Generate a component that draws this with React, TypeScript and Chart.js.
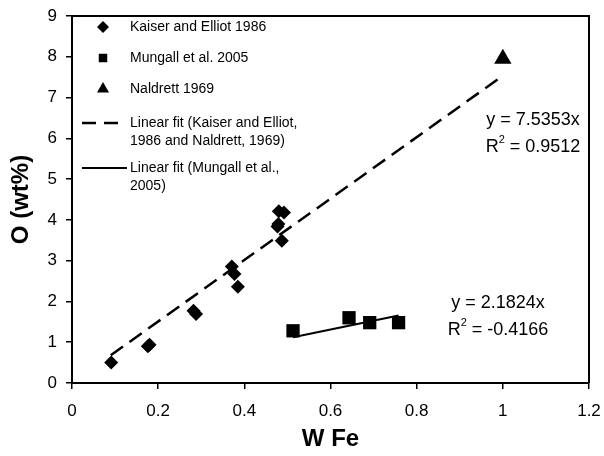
import React, { useEffect, useRef } from 'react';
import { Chart, registerables } from 'chart.js';

Chart.register(...registerables);

// Kaiser and Elliot 1986
const kaiserX = [0.091, 0.176, 0.18, 0.282, 0.288, 0.371, 0.377, 0.385, 0.477, 0.479, 0.48, 0.492, 0.487];
const kaiserY = [0.5, 0.9, 0.94, 1.77, 1.69, 2.86, 2.67, 2.36, 3.84, 3.9, 4.21, 4.18, 3.49];
// Mungall et al. 2005
const mungallX = [0.513, 0.643, 0.691, 0.758];
const mungallY = [1.28, 1.6, 1.48, 1.48];
// Naldrett 1969
const naldrettX = [1.0];
const naldrettY = [7.95];
// Linear fit (Kaiser and Elliot 1986 and Naldrett 1969): y = 7.5353x
const fitKX = [0.09, 1.0];
const fitKY = [0.68, 7.535];
// Linear fit (Mungall et al. 2005): y = 2.1824x
const fitMX = [0.513, 0.758];
const fitMY = [1.12, 1.654];

const legendLabels = [
  ['Kaiser and Elliot 1986'],
  ['Mungall et al. 2005'],
  ['Naldrett 1969'],
  ['Linear fit (Kaiser and Elliot,', '1986 and Naldrett, 1969)'],
  ['Linear fit (Mungall et al.,', '2005)'],
];
const eq1 = ['y = 7.5353x', '0.9512'];
const eq2 = ['y = 2.1824x', '-0.4166'];

const xTitle = 'W Fe';
const yTitle = 'O (wt%)';

const FONT = '"Liberation Sans", Arial, Helvetica, sans-serif';

function pts(xs: number[], ys: number[]) {
  return xs.map((x, i) => ({ x, y: ys[i] }));
}

export default function App() {
  const ref = useRef<HTMLCanvasElement>(null);
  useEffect(() => {
    document.body.style.margin = '0';
    const canvas = ref.current!;

    const drawDiamond = (c: CanvasRenderingContext2D, x: number, y: number, r: number) => {
      c.beginPath();
      c.moveTo(x - r, y); c.lineTo(x, y - r); c.lineTo(x + r, y); c.lineTo(x, y + r);
      c.closePath(); c.fill();
    };
    const drawSquare = (c: CanvasRenderingContext2D, x: number, y: number, s: number) => {
      c.fillRect(x - s / 2, y - s / 2, s, s);
    };
    const drawTri = (c: CanvasRenderingContext2D, x: number, y: number, r: number) => {
      c.beginPath();
      c.moveTo(x, y - r);
      c.lineTo(x + r * Math.sin(Math.PI * 2 / 3), y - r * Math.cos(Math.PI * 2 / 3));
      c.lineTo(x + r * Math.sin(Math.PI * 4 / 3), y - r * Math.cos(Math.PI * 4 / 3));
      c.closePath(); c.fill();
    };

    const drawEq = (c: CanvasRenderingContext2D, cx: number, y1: number, y2: number, eq: string[]) => {
      const big = `18px ${FONT}`;
      const small = `11px ${FONT}`;
      c.font = big;
      c.textBaseline = 'middle';
      c.textAlign = 'center';
      c.fillText(eq[0], cx, y1);
      const rest = ' = ' + eq[1];
      const wR = c.measureText('R').width;
      const wRest = c.measureText(rest).width;
      c.font = small;
      const w2 = c.measureText('2').width;
      const total = wR + w2 + wRest;
      let x = cx - total / 2;
      c.textAlign = 'left';
      c.font = big;
      c.fillText('R', x, y2);
      x += wR;
      c.font = small;
      c.fillText('2', x, y2 - 7);
      x += w2;
      c.font = big;
      c.fillText(rest, x, y2);
    };

    const overlay = {
      id: 'overlay',
      afterDraw(chart: any) {
        const c: CanvasRenderingContext2D = chart.ctx;
        const a = chart.chartArea;
        c.save();
        c.strokeStyle = '#000';
        c.lineWidth = 2;
        c.beginPath();
        c.moveTo(a.left, a.top);
        c.lineTo(a.right, a.top);
        c.lineTo(a.right, a.bottom);
        c.stroke();

        // legend
        c.fillStyle = '#000';
        const mx = 103;
        const tx = 130;
        const rows = [27, 58, 89, 123, 168];
        drawDiamond(c, mx, rows[0], 6);
        drawSquare(c, mx, rows[1], 8.5);
        drawTri(c, mx, rows[2], 7);
        c.lineWidth = 2.5;
        c.setLineDash([14, 8]);
        c.beginPath(); c.moveTo(82, rows[3]); c.lineTo(125, rows[3]); c.stroke();
        c.setLineDash([]);
        c.lineWidth = 2;
        c.beginPath(); c.moveTo(82, rows[4]); c.lineTo(127, rows[4]); c.stroke();
        c.font = `14px ${FONT}`;
        c.textBaseline = 'middle';
        c.textAlign = 'left';
        legendLabels.forEach((lines, i) => {
          lines.forEach((t, j) => c.fillText(t, tx, rows[i] + j * 18));
        });

        drawEq(c, 533, 120, 147, eq1);
        drawEq(c, 498, 303, 330, eq2);
        c.restore();
      },
    };

    const fmt = (v: any) => String(Math.round(Number(v) * 10) / 10);

    const chart = new Chart(canvas, {
      type: 'scatter',
      data: {
        datasets: [
          {
            label: 'fitK',
            type: 'line',
            data: pts(fitKX, fitKY),
            borderColor: '#000',
            borderWidth: 2.5,
            borderDash: [15, 8],
            pointRadius: 0,
            fill: false,
          } as any,
          {
            label: 'fitM',
            type: 'line',
            data: pts(fitMX, fitMY),
            borderColor: '#000',
            borderWidth: 2,
            pointRadius: 0,
            fill: false,
          } as any,
          {
            label: 'Kaiser and Elliot 1986',
            data: pts(kaiserX, kaiserY),
            pointStyle: 'rectRot',
            pointRadius: 7,
            backgroundColor: '#000',
            borderColor: '#000',
            borderWidth: 0,
          },
          {
            label: 'Mungall et al. 2005',
            data: pts(mungallX, mungallY),
            pointStyle: 'rect',
            pointRadius: 9.4,
            backgroundColor: '#000',
            borderColor: '#000',
            borderWidth: 0,
          },
          {
            label: 'Naldrett 1969',
            data: pts(naldrettX, naldrettY),
            pointStyle: 'triangle',
            pointRadius: 10,
            backgroundColor: '#000',
            borderColor: '#000',
            borderWidth: 0,
          },
        ],
      },
      options: {
        responsive: false,
        animation: false,
        devicePixelRatio: 1,
        layout: { padding: { top: 16, right: 15, left: 0, bottom: 0 } },
        plugins: { legend: { display: false }, tooltip: { enabled: false } },
        scales: {
          x: {
            type: 'linear',
            min: 0,
            max: 1.2,
            ticks: { stepSize: 0.2, color: '#000', font: { family: FONT, size: 17 }, padding: 12, callback: fmt },
            grid: { drawOnChartArea: false, drawTicks: true, tickLength: 6, color: '#000', lineWidth: 1.5 },
            border: { color: '#000', width: 2 },
            title: {
              display: true,
              text: xTitle,
              color: '#000',
              font: { family: FONT, size: 24, weight: 'bold' },
              padding: { top: 0, bottom: 2 },
            },
            afterFit: (s: any) => { s.height = 73; s.paddingLeft = 0; s.paddingRight = 0; },
          },
          y: {
            type: 'linear',
            min: 0,
            max: 9,
            ticks: { stepSize: 1, color: '#000', font: { family: FONT, size: 17 }, padding: 9, callback: fmt },
            grid: { drawOnChartArea: false, drawTicks: true, tickLength: 6, color: '#000', lineWidth: 1.5 },
            border: { color: '#000', width: 2 },
            title: {
              display: true,
              text: yTitle,
              color: '#000',
              font: { family: FONT, size: 24, weight: 'bold' },
              padding: { top: 7, bottom: 0 },
            },
            afterFit: (s: any) => { s.width = 72; s.paddingTop = 0; s.paddingBottom = 0; },
          },
        },
      },
      plugins: [overlay],
    });
    return () => chart.destroy();
  }, []);
  return <canvas ref={ref} width={604} height={456} style={{ display: 'block' }} />;
}
